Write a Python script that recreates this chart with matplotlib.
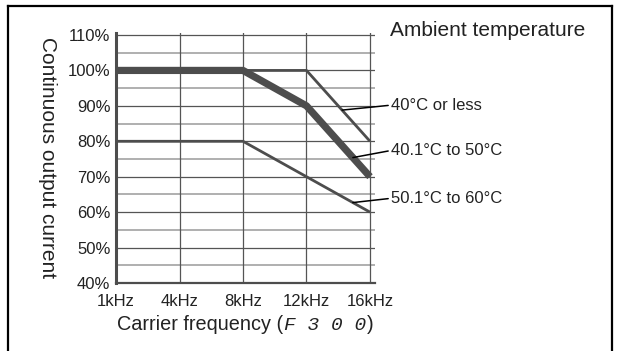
from matplotlib import pyplot as plt
from matplotlib.lines import Line2D
import numpy as np

plt.rcParams["font.family"] = ["Liberation Sans", "DejaVu Sans"]

# data
freq_labels = ["1kHz", "4kHz", "8kHz", "12kHz", "16kHz"]
y_ticks = [40, 50, 60, 70, 80, 90, 100, 110]
temp_40 = [100, 100, 100, 100, 80]
temp_50 = [100, 100, 100, 90, 70]
temp_60 = [80, 80, 80, 70, 60]
series_names = ["40°C or less", "40.1°C to 50°C", "50.1°C to 60°C"]

x = np.arange(len(freq_labels))

fig = plt.figure(figsize=(6.18, 3.51), dpi=100)
ax = fig.add_axes([116 / 618, 1 - 283 / 351, (375 - 116) / 618, (283 - 33) / 351])

ax.set_xlim(0, 4 + 5 / 63.5)
ax.set_ylim(40, 110 + 2 / 3.54)

# grid
for v in np.arange(45, 111, 10):
    ax.axhline(v, color="#9a9a9a", lw=1.1, zorder=1)
for v in np.arange(50, 111, 10):
    ax.axhline(v, color="#555555", lw=0.9, zorder=1)
for i in x[1:]:
    ax.axvline(i, color="#555555", lw=0.9, zorder=1)

col = "#4d4d4d"
ax.plot(x, temp_40, color=col, lw=2.0, zorder=3, solid_capstyle="butt")
ax.plot(x, temp_50, color=col, lw=5.2, zorder=3, solid_capstyle="butt")
ax.plot(x, temp_60, color=col, lw=2.0, zorder=3, solid_capstyle="butt")

for s in ["top", "right"]:
    ax.spines[s].set_visible(False)
ax.spines["left"].set_linewidth(2.2)
ax.spines["left"].set_color(col)
ax.spines["bottom"].set_linewidth(1.6)
ax.spines["bottom"].set_color(col)

ax.set_xticks(x)
ax.set_xticklabels(freq_labels, fontsize=12, color="#222222")
ax.set_yticks(y_ticks)
ax.set_yticklabels([f"{v}%" for v in y_ticks], fontsize=12, color="#222222")
ax.tick_params(length=0, pad=4)
ax.tick_params(axis="x", pad=8)

ax.set_ylabel("Continuous output current", rotation=270, fontsize=15,
              color="#222222")
ax.yaxis.set_label_coords(-0.3, 0.5)

# leader lines and labels
label_pos = [(4.33, 90.2), (4.33, 77.4), (4.33, 63.9)]
line_pts = [(3.56, 88.8), (3.73, 75.4), (3.73, 62.7)]
for name, (lx, ly), (px, py) in zip(series_names, label_pos, line_pts):
    ax.annotate(name, xy=(px, py), xytext=(lx, ly), fontsize=12,
                color="#222222", va="center", ha="left",
                annotation_clip=False,
                arrowprops=dict(arrowstyle="-", color="black", lw=1.1,
                                shrinkA=0, shrinkB=0,
                                relpos=(0, 0.5)))

fig.text(390 / 618, 1 - 30 / 351, "Ambient temperature", fontsize=15,
         color="#222222", va="center", ha="left")

# x label in three pieces
fig.canvas.draw()
r = fig.canvas.get_renderer()
ybase = 1 - 325 / 351
t1 = fig.text(117 / 618, ybase, "Carrier frequency (", fontsize=14.3,
              color="#222222", va="center", ha="left")
bb = t1.get_window_extent(r)
t2 = fig.text(bb.x1 / 618 + 1 / 618, ybase, "F 3 0 0", fontsize=14,
              family="Liberation Mono", style="italic", color="#222222",
              va="center", ha="left")
bb2 = t2.get_window_extent(r)
fig.text(bb2.x1 / 618 + 1 / 618, ybase, ")", fontsize=14.3,
         color="#222222", va="center", ha="left")

# outer border
for xs, ys in [([7.5, 7.5], [0, 345.5]), ([7.5, 612], [345.5, 345.5]),
               ([612, 612], [345.5, 0])]:
    fig.add_artist(Line2D([v / 618 for v in xs], [v / 351 for v in ys],
                          color="black", lw=1.6, transform=fig.transFigure))

fig.savefig("out.png", dpi=100)
